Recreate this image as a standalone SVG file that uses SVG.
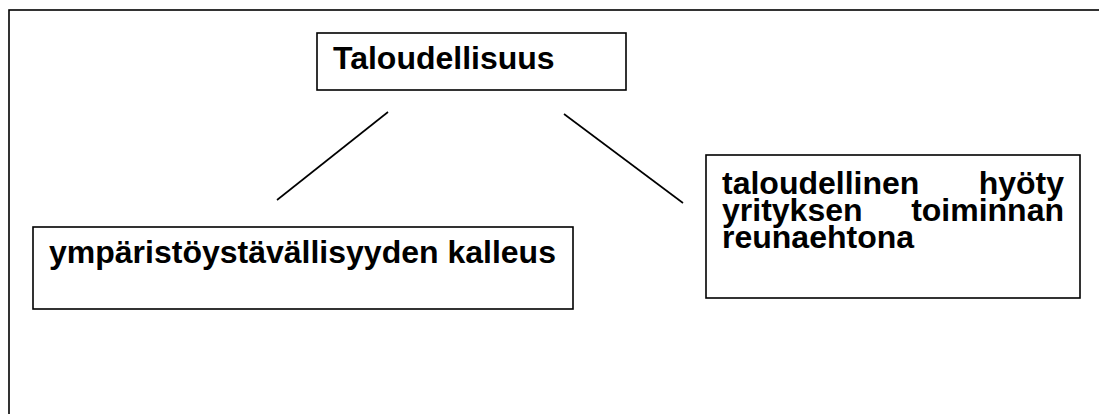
<svg xmlns="http://www.w3.org/2000/svg" width="1099" height="414" viewBox="0 0 1099 414">
<style>
.frame{fill:none;stroke:#000;stroke-width:1.6}
.box{fill:#fff;stroke:#000;stroke-width:1.6}
.t{font-family:"Liberation Sans",Arial,sans-serif;font-weight:bold;font-size:32px;fill:#000}
.c{stroke:#000;stroke-width:1.6;fill:none}
</style>
<rect width="1099" height="414" fill="#fff"/>
<rect class="frame" x="9" y="10" width="1110" height="420"/>
<g id="connectors">
<line class="c" x1="388" y1="112" x2="277" y2="200"/>
<line class="c" x1="564" y1="114" x2="683" y2="203"/>
</g>
<g id="node-taloudellisuus">
<rect class="box" x="317" y="33" width="309" height="57"/>
<text class="t" x="333" y="69">Taloudellisuus</text>
</g>
<g id="node-kalleus">
<rect class="box" x="33" y="227" width="540" height="82"/>
<text class="t" x="49" y="263">ympäristöystävällisyyden kalleus</text>
</g>
<g id="node-hyoty">
<rect class="box" x="706" y="155" width="374" height="143"/>
<text class="t" x="722" y="194">taloudellinen</text>
<text class="t" x="1064" y="194" text-anchor="end">hyöty</text>
<text class="t" x="722" y="221">yrityksen</text>
<text class="t" x="1064" y="221" text-anchor="end">toiminnan</text>
<text class="t" x="722" y="248">reunaehtona</text>
</g>
</svg>
